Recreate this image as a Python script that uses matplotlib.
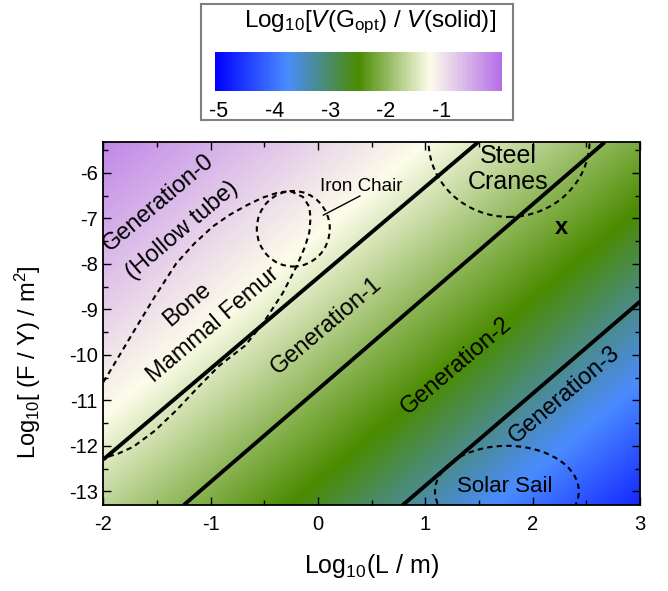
import numpy as np
import matplotlib
matplotlib.use("Agg")
import matplotlib.pyplot as plt
from matplotlib.colors import LinearSegmentedColormap, Normalize
from matplotlib.patches import Ellipse
import matplotlib.cm as cm

plt.rcParams['font.family'] = ['Liberation Sans', 'DejaVu Sans']
plt.rcParams['mathtext.fontset'] = 'custom'
plt.rcParams['mathtext.rm'] = 'Liberation Sans'
plt.rcParams['mathtext.it'] = 'Liberation Sans:italic'
plt.rcParams['axes.unicode_minus'] = False

# ---------------- data ----------------
xlim = (-2.0, 3.0)
ylim = (-13.3, -5.33)
x_ticks = [-2, -1, 0, 1, 2, 3]
y_ticks = [-13, -12, -11, -10, -9, -8, -7, -6]
cbar_ticks = [-5, -4, -3, -2, -1]
cbar_range = (-5.07, 0.08)

# colour field: log10 ratio read along the diagonal coordinate s = log(F/Y) - 2 log(L)
s_nodes = [-19.3, -16.6, -12.8, -7.4, -1.33]
v_nodes = [-4.70, -3.78, -2.50, -1.22, -0.15]

# colormap nodes
cmap_pos = [0.0, 0.25, 0.5, 0.75, 1.0]
cmap_cols = ['#0000ff', '#4a8cff', '#4b8b00', '#fdfdea', '#b46ee8']

# generation boundary lines (endpoints)
gen1_x = [-2.0, 1.49]
gen1_y = [-12.30, -5.33]
gen2_x = [-1.25, 2.67]
gen2_y = [-13.30, -5.33]
gen3_x = [0.79, 3.0]
gen3_y = [-13.30, -8.83]

# Bone / mammal femur dashed region
bone_x = [-2.0, -1.92, -1.72, -1.52, -1.32, -1.15, -0.98, -0.82, -0.66, -0.52,
          -0.38, -0.26, -0.14, -0.08, -0.07, -0.08, -0.12, -0.20, -0.33, -0.51,
          -0.68, -0.92, -1.12, -1.32, -1.52, -1.72, -1.86, -2.0]
bone_y = [-10.60, -10.29, -9.50, -8.72, -7.99, -7.55, -7.18, -6.92, -6.71, -6.55,
          -6.44, -6.40, -6.53, -6.75, -7.00, -7.30, -7.62, -8.06, -8.65, -9.30,
          -9.80, -10.24, -10.72, -11.22, -11.67, -12.02, -12.17, -12.27]

# ellipses: (centre x, centre y, width, height)
iron_chair = (-0.23, -7.23, 0.68, 1.66)
steel_cranes = (1.78, -5.30, 1.50, 3.34)
solar_sail = (1.76, -13.00, 1.34, 2.00)

iron_leader_x = [0.05, 0.39]
iron_leader_y = [-6.93, -6.51]

# ---------------- figure ----------------
W, H = 668, 591
fig = plt.figure(figsize=(W / 100, H / 100), dpi=100)
ax = fig.add_axes([103.3 / W, 1 - 505 / H, (640 - 103.3) / W, (505 - 142.3) / H])

cmap = LinearSegmentedColormap.from_list('gen', list(zip(cmap_pos, cmap_cols)))
norm = Normalize(*cbar_range)

gx = np.linspace(xlim[0], xlim[1], 500)
gy = np.linspace(ylim[0], ylim[1], 500)
GX, GY = np.meshgrid(gx, gy)
S = GY - 2 * GX
V = np.interp(S, s_nodes, v_nodes)
ax.imshow(V, extent=[xlim[0], xlim[1], ylim[0], ylim[1]], origin='lower',
          aspect='auto', cmap=cmap, norm=norm, interpolation='bilinear', zorder=0)

for gxs, gys in [(gen1_x, gen1_y), (gen2_x, gen2_y), (gen3_x, gen3_y)]:
    ax.plot(gxs, gys, color='black', lw=2.8, solid_capstyle='butt', zorder=3)

dash = (0, (2.6, 2.0))
ax.plot(bone_x, bone_y, color='black', lw=1.5, ls=dash, zorder=2)
for (cx, cy, w, h) in [iron_chair, steel_cranes, solar_sail]:
    ax.add_patch(Ellipse((cx, cy), w, h, fill=False, ec='black', lw=1.5,
                         ls=dash, zorder=2))
ax.plot(iron_leader_x, iron_leader_y, color='black', lw=1.0, zorder=2)

ax.set_xlim(*xlim)
ax.set_ylim(*ylim)
ax.set_xticks(x_ticks)
ax.set_yticks(y_ticks)
ax.set_xticks(np.arange(-1.5, 3.0, 1.0), minor=True)
ax.set_yticks(np.arange(-12.5, -5.4, 1.0), minor=True)
ax.tick_params(which='both', direction='in', top=True, right=True,
               labelsize=14.5, width=1.0, color='black')
ax.tick_params(which='major', length=6)
ax.tick_params(which='minor', length=3.5)
ax.tick_params(axis='x', which='major', pad=7)
ax.tick_params(axis='y', which='major', pad=4)
for sp in ax.spines.values():
    sp.set_linewidth(1.3)
    sp.set_zorder(5)

ax.set_xlabel('Log$_{10}$(L / m)', fontsize=18, labelpad=13)
ax.set_ylabel('Log$_{10}$[ (F / Y) / m$^2$]', fontsize=17)
ax.yaxis.set_label_coords(-0.112, 0.395)

rot = dict(rotation=np.degrees(np.arctan(2.0)), transform_rotates_text=True,
           rotation_mode='anchor', ha='center', va='center')
fs_lab = 17
ax.text(-1.49, -6.67, 'Generation-0', fontsize=fs_lab, **rot)
ax.text(-1.27, -7.26, '(Hollow tube)', fontsize=fs_lab, **rot)
ax.text(-1.22, -8.90, 'Bone', fontsize=fs_lab, **rot)
ax.text(-0.98, -9.35, 'Mammal Femur', fontsize=fs_lab, **rot)
ax.text(0.08, -9.36, 'Generation-1', fontsize=fs_lab, **rot)
ax.text(1.29, -10.24, 'Generation-2', fontsize=fs_lab, **rot)
ax.text(2.30, -10.88, 'Generation-3', fontsize=fs_lab, **rot)
ax.text(0.40, -6.31, 'Iron Chair', fontsize=13.5, ha='center', va='center')
ax.text(1.77, -5.92, 'Steel\nCranes', fontsize=18, ha='center', va='center',
        linespacing=1.1)
ax.text(1.74, -12.90, 'Solar Sail', fontsize=16, ha='center', va='center')
ax.text(2.27, -7.21, 'x', fontsize=17, fontweight='bold', ha='center', va='center')

# ---------------- colour bar box ----------------
box = fig.add_axes([201 / W, 1 - 120 / H, 312 / W, 116 / H])
box.set_xticks([])
box.set_yticks([])
for sp in box.spines.values():
    sp.set_color('#808080')
    sp.set_linewidth(1.5)

cax = fig.add_axes([215 / W, 1 - 91 / H, 287 / W, 39 / H])
sm = cm.ScalarMappable(norm=norm, cmap=cmap)
cb = fig.colorbar(sm, cax=cax, orientation='horizontal', ticks=cbar_ticks)
cb.outline.set_visible(False)
cax.tick_params(length=0, labelsize=15.5, pad=7)

fig.text(370 / W, 1 - 22 / H, 'Log$_{10}$[$V$(G$_{\\rm opt}$) / $V$(solid)]',
         fontsize=17.5, ha='center', va='center')

fig.savefig('out.png', dpi=100)
